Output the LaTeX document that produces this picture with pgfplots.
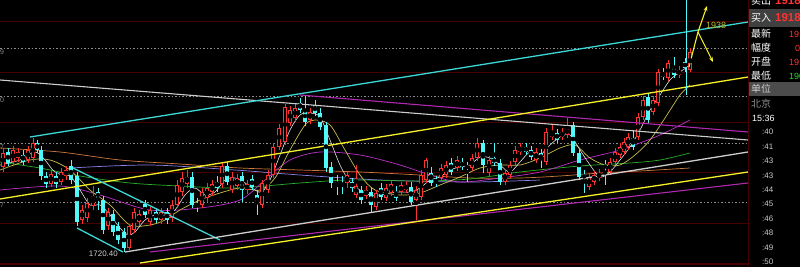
\documentclass[border=0pt]{standalone}
\usepackage{fontspec}
\setmainfont{Liberation Sans}
\newfontfamily\cjk{Noto Sans CJK SC}
\usepackage{pgfplots}
\pgfplotsset{compat=1.18}
\usepackage{pgfplotstable}
\usetikzlibrary{arrows.meta}

\definecolor{kcyan}{RGB}{80,250,250}
\definecolor{kred}{RGB}{255,50,50}
\definecolor{gridred}{RGB}{70,0,0}
\definecolor{dotgray}{RGB}{140,140,140}
\definecolor{mafive}{RGB}{225,225,225}
\definecolor{maten}{RGB}{200,190,80}
\definecolor{matwenty}{RGB}{190,50,200}
\definecolor{mathirty}{RGB}{40,175,40}
\definecolor{masixty}{RGB}{205,120,60}
\definecolor{mablue}{RGB}{140,130,235}
\definecolor{lcyan}{RGB}{60,215,215}
\definecolor{lyellow}{RGB}{245,240,40}
\definecolor{lwhite}{RGB}{205,205,205}
\definecolor{lmag}{RGB}{175,40,175}
\definecolor{labolive}{RGB}{190,190,40}
\definecolor{kgreen}{RGB}{40,220,40}

\pgfplotstableread{
x o h l c
3 167 148 172 153
13 162 146 165 150
18 158 148 162 152
28 160 146 163 150
33 158 138 162 143
51 184 170 187 174
61 182 168 185 172
66 176 166 180 170
82 220 205 224 210
87 218 198 222 203
93 206 186 210 196
108 226 208 230 212
129 248 224 250 226
134 230 208 233 212
139 222 210 226 214
150 222 207 226 210
161 220 208 224 212
172 218 200 222 205
177 205 180 208 185
182 192 172 196 178
187 184 170 188 177
202 205 188 208 192
207 198 183 202 188
212 192 180 196 184
222 184 162 188 166
232 190 172 193 177
237 186 174 190 178
247 190 180 194 184
262 205 180 208 183
268 190 170 193 175
273 175 143 178 147
279 147 124 150 128
285 142 104 145 107
290 123 106 126 110
295 118 104 122 108
310 120 108 124 112
347 183 172 188 175
356 195 165 198 186
366 196 186 199 190
376 207 190 210 193
386 198 184 201 188
391 193 180 196 184
401 192 182 195 185
406 190 181 193 185
416 200 186 220 190
421 197 170 200 175
426 180 158 183 160
441 178 164 181 168
446 175 161 178 165
457 168 156 171 160
472 168 154 171 158
477 158 138 161 143
489 173 156 176 160
505 182 169 185 173
510 175 161 178 165
515 162 146 165 150
520 152 143 155 147
536 160 148 163 152
546 162 128 165 132
552 137 125 140 132
562 137 128 140 132
567 135 118 138 128
589 187 173 190 177
594 182 171 185 175
599 178 169 181 173
610 172 158 175 162
615 162 148 165 152
620 155 143 158 147
624 152 138 155 142
628 147 133 150 137
638 137 113 140 117
643 117 96 120 100
653 112 96 115 100
658 103 69 106 72
668 78 60 81 63
679 75 66 78 70
690 70 48 72 52
}\upT

\pgfplotstableread{
x o h l c
8 152 148 166 163
23 155 150 165 162
37 143 140 153 150
41 150 146 180 176
46 176 172 188 184
56 176 172 188 184
71 166 160 184 180
77 176 172 226 222
98 192 188 210 198
103 200 196 234 230
113 214 210 236 232
118 226 222 244 240
124 232 228 252 248
145 204 200 218 215
156 212 208 223 220
167 212 208 224 220
192 177 172 208 205
197 204 198 212 207
217 182 176 192 188
227 166 162 185 182
242 176 172 202 190
252 179 175 190 187
257 195 190 215 204
300 103 98 113 110
305 110 95 126 122
315 105 100 116 113
320 113 108 130 127
326 125 122 172 168
331 167 162 188 183
337 182 175 195 185
342 183 176 194 186
352 182 178 192 188
361 190 186 204 200
371 192 188 212 205
381 188 183 200 197
396 192 186 201 198
411 187 182 205 202
431 173 167 186 183
436 180 176 187 183
451 163 158 175 172
462 162 158 170 167
467 166 162 182 168
483 143 140 173 165
494 158 143 166 163
500 163 159 185 182
526 147 143 155 152
531 150 146 160 157
541 153 149 168 160
557 133 129 143 140
573 125 122 156 153
579 153 150 180 177
584 175 170 193 178
605 165 160 185 168
633 138 130 150 147
648 97 93 123 120
663 73 68 80 77
674 67 57 78 75
685 62 58 72 68
}\downT

\pgfplotsset{
  vbar/.style 2 args={only marks, mark=none, forget plot,
    error bars/.cd, y dir=both, y explicit, error mark=none,
    error bar style={line width=#2, draw=#1, solid}},
}

\begin{document}
\begin{tikzpicture}
\fill[black] (0,0) rectangle (800bp,267bp);
\begin{axis}[at={(0,0)}, anchor=south west, scale only axis,
  width=800bp, height=267bp, xmin=0, xmax=800, ymin=0, ymax=267,
  y dir=reverse, hide axis, clip=true]

% grid
\addplot[gridred, line width=0.9bp, forget plot] coordinates {(0,21)(748,21)};
\addplot[gridred, line width=0.9bp, forget plot] coordinates {(0,72)(748,72)};
\addplot[gridred, line width=0.9bp, forget plot] coordinates {(0,122)(748,122)};
\addplot[gridred, line width=0.9bp, forget plot] coordinates {(0,172)(748,172)};
\addplot[gridred, line width=0.9bp, forget plot] coordinates {(0,223)(748,223)};
\addplot[gridred, line width=1.4bp, forget plot] coordinates {(0,264)(748,264)};
\addplot[dotgray, line width=0.7bp, dash pattern=on 1.5bp off 2bp, forget plot] coordinates {(0,48)(748,48)};
\addplot[dotgray, line width=0.7bp, dash pattern=on 1.5bp off 2bp, forget plot] coordinates {(0,96)(748,96)};
\addplot[dotgray, line width=0.7bp, dash pattern=on 1.5bp off 2bp, forget plot] coordinates {(0,143)(748,143)};
\addplot[dotgray, line width=0.7bp, dash pattern=on 1.5bp off 2bp, forget plot] coordinates {(0,202)(748,202)};

% moving averages
\addplot[masixty, line width=0.7bp, smooth] coordinates {(0,148)(60,152)(120,160)(180,164)(240,168)(300,170)(360,172)(420,175)(470,178)(520,178)(560,176)(600,173)(640,171)(690,168)};
\addplot[mablue, line width=0.7bp, smooth] coordinates {(70,168)(150,165)(235,170)(300,175)(380,180)(470,182)(540,180)};
\addplot[mathirty, line width=0.7bp, smooth] coordinates {(0,162)(40,168)(80,176)(130,183)(180,186)(235,188)(300,183)(350,180)(420,181)(470,179)(520,172)(580,166)(630,163)(660,160)(690,153)};
\addplot[matwenty, line width=0.7bp, smooth] coordinates {(0,190)(60,186)(100,195)(150,210)(200,208)(240,200)(265,180)(290,160)(320,152)(360,155)(400,165)(430,175)(460,182)(500,178)(540,172)(580,160)(620,150)(660,135)(690,120)};
\addplot[maten, line width=0.7bp, smooth] coordinates {(0,170)(30,160)(50,160)(70,170)(90,190)(110,205)(130,225)(150,225)(165,220)(180,210)(200,200)(220,193)(240,188)(260,190)(275,178)(290,150)(305,125)(315,120)(330,125)(345,150)(360,175)(375,190)(400,195)(420,193)(440,185)(460,177)(480,168)(500,165)(520,165)(540,158)(560,148)(575,145)(590,158)(605,165)(620,165)(635,155)(650,140)(665,118)(680,95)(690,85)};
\addplot[mafive, line width=0.6bp, smooth] coordinates {(0,165)(20,160)(35,152)(45,160)(55,172)(70,176)(80,190)(90,205)(100,205)(110,215)(120,228)(128,235)(135,232)(145,220)(155,215)(165,215)(175,210)(185,195)(195,188)(205,195)(215,192)(225,180)(235,178)(245,183)(255,190)(262,192)(270,180)(280,155)(290,130)(300,115)(310,113)(320,117)(330,140)(340,165)(350,182)(360,190)(370,195)(380,195)(390,193)(400,192)(410,192)(420,188)(430,180)(440,177)(450,170)(460,167)(470,165)(480,157)(490,158)(500,165)(510,172)(520,162)(530,152)(540,155)(550,145)(560,137)(570,135)(580,150)(590,165)(600,177)(610,172)(620,160)(630,147)(640,130)(650,110)(660,95)(670,80)(680,72)(690,65)};

% candles: wicks
\addplot[vbar={kred}{0.9bp}] table[x=x, y expr={(\thisrow{h}+\thisrow{l})/2}, y error expr={(\thisrow{l}-\thisrow{h})/2}] {\upT};
\addplot[vbar={kcyan}{0.9bp}] table[x=x, y expr={(\thisrow{h}+\thisrow{l})/2}, y error expr={(\thisrow{l}-\thisrow{h})/2}] {\downT};
% bodies
\addplot[vbar={kcyan}{4.2bp}] table[x=x, y expr={(\thisrow{o}+\thisrow{c})/2}, y error expr={max((\thisrow{c}-\thisrow{o})/2,0.6)}] {\downT};
\addplot[vbar={kred}{4.2bp}] table[x=x, y expr={(\thisrow{o}+\thisrow{c})/2}, y error expr={max((\thisrow{o}-\thisrow{c})/2,0.6)}] {\upT};
\addplot[vbar={black}{2.4bp}] table[x=x, y expr={(\thisrow{o}+\thisrow{c})/2}, y error expr={max((\thisrow{o}-\thisrow{c})/2-0.9,0)}] {\upT};

% trend lines
\addplot[lwhite, line width=1.1bp] coordinates {(0,80)(748,140)};
\addplot[lmag, line width=1.1bp] coordinates {(300,95)(748,132)};
\addplot[lcyan, line width=1.3bp] coordinates {(30,137)(748,22)};
\addplot[lyellow, line width=1.3bp] coordinates {(0,199)(748,77)};
\addplot[lcyan, line width=1.3bp] coordinates {(73,168)(220,240)};
\addplot[lcyan, line width=1.3bp] coordinates {(77,228)(123,252)};
\addplot[lwhite, line width=1.3bp] coordinates {(125,252)(748,152)};
\addplot[lmag, line width=1.1bp] coordinates {(150,252)(748,183)};
\addplot[lyellow, line width=1.3bp] coordinates {(140,263)(748,172)};
\addplot[kcyan, line width=0.7bp] coordinates {(686,0)(686,95)};
\addplot[lyellow, line width=1.1bp, -{Stealth[length=5bp,width=4bp]}] coordinates {(689,67)(698,32)(707,6)};
\addplot[lyellow, line width=1.1bp, -{Stealth[length=5bp,width=4bp]}] coordinates {(698,32)(713,62)};

% texts in chart
\node[anchor=east, text=lwhite, font=\fontsize{8}{8}\selectfont, inner sep=0pt] at (axis cs:118,254) {1720.40};
\node[anchor=west, text=labolive, font=\fontsize{9}{9}\selectfont, inner sep=0pt] at (axis cs:706,25) {1938};
\node[anchor=west, text=dotgray, font=\fontsize{7}{7}\selectfont, inner sep=0pt] at (axis cs:0,52) {9};
\node[anchor=west, text=dotgray, font=\fontsize{7}{7}\selectfont, inner sep=0pt] at (axis cs:0,100) {0};
\node[anchor=west, text=dotgray, font=\fontsize{7}{7}\selectfont, inner sep=0pt] at (axis cs:0,147) {7};
\node[anchor=west, text=dotgray, font=\fontsize{7}{7}\selectfont, inner sep=0pt] at (axis cs:0,205) {7};

% right panel
\fill[black] (axis cs:748,0) rectangle (axis cs:800,267);
\addplot[gridred, line width=1bp] coordinates {(748,0)(748,267)};
\fill[black!75!white] (axis cs:749,9) rectangle (axis cs:800,27);
\fill[black!70!white] (axis cs:749,82) rectangle (axis cs:800,96);
\node[anchor=west, text=white, font=\cjk\fontsize{10}{10}\selectfont, inner sep=0pt] at (axis cs:751,1) {卖出};
\node[anchor=west, text=kred, font=\bfseries\fontsize{11.5}{11.5}\selectfont, inner sep=0pt] at (axis cs:775,1) {1918};
\node[anchor=west, text=white, font=\cjk\fontsize{10}{10}\selectfont, inner sep=0pt] at (axis cs:751,18) {买入};
\node[anchor=west, text=kred, font=\bfseries\fontsize{11.5}{11.5}\selectfont, inner sep=0pt] at (axis cs:775,18) {1918};
\node[anchor=west, text=white, font=\cjk\fontsize{10}{10}\selectfont, inner sep=0pt] at (axis cs:751,34) {最新};
\node[anchor=west, text=kred, font=\fontsize{9}{9}\selectfont, inner sep=0pt] at (axis cs:789,34) {1918};
\node[anchor=west, text=white, font=\cjk\fontsize{10}{10}\selectfont, inner sep=0pt] at (axis cs:751,48) {幅度};
\node[anchor=west, text=kred, font=\fontsize{9}{9}\selectfont, inner sep=0pt] at (axis cs:795,48) {0.5};
\node[anchor=west, text=white, font=\cjk\fontsize{10}{10}\selectfont, inner sep=0pt] at (axis cs:751,62) {开盘};
\node[anchor=west, text=kred, font=\fontsize{9}{9}\selectfont, inner sep=0pt] at (axis cs:789,62) {1910};
\node[anchor=west, text=white, font=\cjk\fontsize{10}{10}\selectfont, inner sep=0pt] at (axis cs:751,76) {最低};
\node[anchor=west, text=kgreen, font=\fontsize{9}{9}\selectfont, inner sep=0pt] at (axis cs:789,76) {1905};
\node[anchor=west, text=lwhite, font=\cjk\fontsize{10}{10}\selectfont, inner sep=0pt] at (axis cs:751,89) {单位};
\node[anchor=west, text=dotgray, font=\cjk\fontsize{10}{10}\selectfont, inner sep=0pt] at (axis cs:751,104) {北京};
\node[anchor=west, text=white, font=\fontsize{9}{9}\selectfont, inner sep=0pt] at (axis cs:752,118) {15:36};
\node[anchor=west, text=lwhite, font=\fontsize{8}{8}\selectfont, inner sep=0pt] at (axis cs:762,132) {:40};
\node[anchor=west, text=lwhite, font=\fontsize{8}{8}\selectfont, inner sep=0pt] at (axis cs:762,147) {:41};
\node[anchor=west, text=lwhite, font=\fontsize{8}{8}\selectfont, inner sep=0pt] at (axis cs:762,161) {:43};
\node[anchor=west, text=lwhite, font=\fontsize{8}{8}\selectfont, inner sep=0pt] at (axis cs:762,176) {:43};
\node[anchor=west, text=lwhite, font=\fontsize{8}{8}\selectfont, inner sep=0pt] at (axis cs:762,190) {:44};
\node[anchor=west, text=lwhite, font=\fontsize{8}{8}\selectfont, inner sep=0pt] at (axis cs:762,204) {:45};
\node[anchor=west, text=lwhite, font=\fontsize{8}{8}\selectfont, inner sep=0pt] at (axis cs:762,219) {:46};
\node[anchor=west, text=lwhite, font=\fontsize{8}{8}\selectfont, inner sep=0pt] at (axis cs:762,233) {:48};
\node[anchor=west, text=lwhite, font=\fontsize{8}{8}\selectfont, inner sep=0pt] at (axis cs:762,248) {:49};
\node[anchor=west, text=lwhite, font=\fontsize{8}{8}\selectfont, inner sep=0pt] at (axis cs:762,262) {:50};
\end{axis}
\pgfresetboundingbox
\path (0,0) rectangle (800bp,267bp);
\end{tikzpicture}
\end{document}
